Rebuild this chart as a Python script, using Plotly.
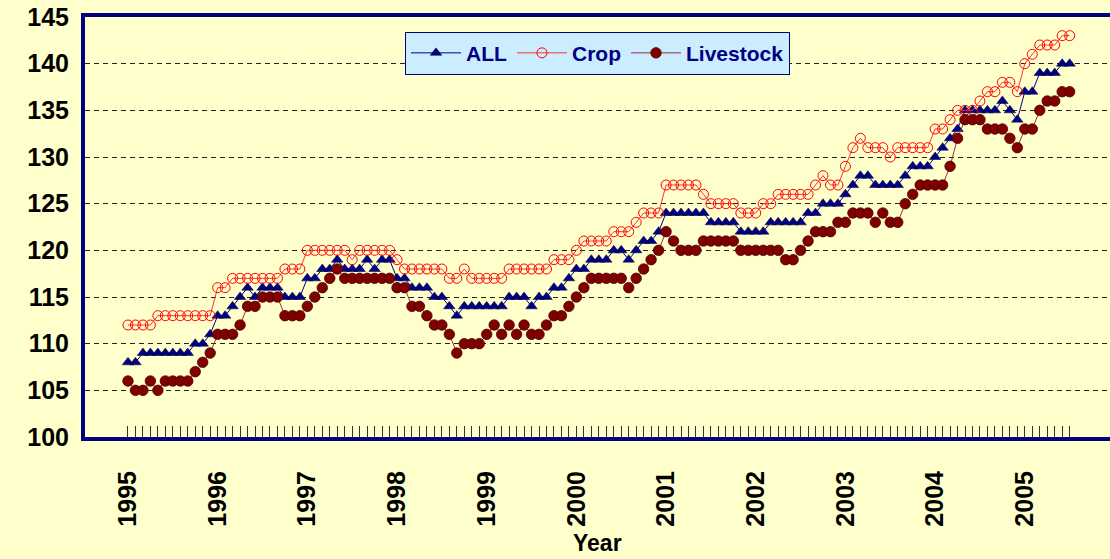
"""Monthly price indices 1995-2005: ALL, Crop, Livestock."""
import plotly.graph_objects as go

# ─── Data (Jan 1995 .. Jul 2005, monthly) ────────────────────────────────────
years = [1995, 1996, 1997, 1998, 1999, 2000, 2001, 2002, 2003, 2004, 2005]

all_index = [
    108, 108, 109, 109, 109, 109, 109, 109, 109, 110, 110, 111,   # 1995
    113, 113, 114, 115, 116, 115, 116, 116, 116, 115, 115, 115,   # 1996
    117, 117, 118, 118, 119, 118, 118, 118, 119, 118, 119, 119,   # 1997
    117, 117, 116, 116, 116, 115, 115, 114, 113, 114, 114, 114,   # 1998
    114, 114, 114, 115, 115, 115, 114, 115, 115, 116, 116, 117,   # 1999
    118, 118, 119, 119, 119, 120, 120, 119, 120, 121, 121, 122,   # 2000
    124, 124, 124, 124, 124, 124, 123, 123, 123, 123, 122, 122,   # 2001
    122, 122, 123, 123, 123, 123, 123, 124, 124, 125, 125, 125,   # 2002
    126, 127, 128, 128, 127, 127, 127, 127, 128, 129, 129, 129,   # 2003
    130, 131, 132, 133, 135, 135, 135, 135, 135, 136, 135, 134,   # 2004
    137, 137, 139, 139, 139, 140, 140,                            # 2005
]

crop_index = [
    112, 112, 112, 112, 113, 113, 113, 113, 113, 113, 113, 113,
    116, 116, 117, 117, 117, 117, 117, 117, 117, 118, 118, 118,
    120, 120, 120, 120, 120, 120, 119, 120, 120, 120, 120, 120,
    119, 118, 118, 118, 118, 118, 118, 117, 117, 118, 117, 117,
    117, 117, 117, 118, 118, 118, 118, 118, 118, 119, 119, 119,
    120, 121, 121, 121, 121, 122, 122, 122, 123, 124, 124, 124,
    127, 127, 127, 127, 127, 126, 125, 125, 125, 125, 124, 124,
    124, 125, 125, 126, 126, 126, 126, 126, 127, 128, 127, 127,
    129, 131, 132, 131, 131, 131, 130, 131, 131, 131, 131, 131,
    133, 133, 134, 135, 135, 135, 136, 137, 137, 138, 138, 137,
    140, 141, 142, 142, 142, 143, 143,
]

livestock_index = [
    106, 105, 105, 106, 105, 106, 106, 106, 106, 107, 108, 109,
    111, 111, 111, 112, 114, 114, 115, 115, 115, 113, 113, 113,
    114, 115, 116, 117, 118, 117, 117, 117, 117, 117, 117, 117,
    116, 116, 114, 114, 113, 112, 112, 111, 109, 110, 110, 110,
    111, 112, 111, 112, 111, 112, 111, 111, 112, 113, 113, 114,
    115, 116, 117, 117, 117, 117, 117, 116, 117, 118, 119, 120,
    122, 121, 120, 120, 120, 121, 121, 121, 121, 121, 120, 120,
    120, 120, 120, 120, 119, 119, 120, 121, 122, 122, 122, 123,
    123, 124, 124, 124, 123, 124, 123, 123, 125, 126, 127, 127,
    127, 127, 129, 132, 134, 134, 134, 133, 133, 133, 132, 131,
    133, 133, 135, 136, 136, 137, 137,
]

NAVY = '#000080'
BG = '#FFFFCC'
FONT = 'Arial, "Liberation Sans", sans-serif'

months = list(range(len(all_index)))
tick_text = [str(years[m // 12]) if m % 12 == 0 else '' for m in months]

fig = go.Figure()

fig.add_trace(go.Scatter(
    x=months, y=all_index, name='ALL', mode='lines+markers',
    line=dict(color=NAVY, width=1),
    marker=dict(symbol='triangle-up', size=10, color=NAVY,
                line=dict(color='#000040', width=0.5)),
))
fig.add_trace(go.Scatter(
    x=months, y=crop_index, name='Crop', mode='lines+markers',
    line=dict(color='#FF3333', width=1),
    marker=dict(symbol='circle-open', size=10, color='#FF0000',
                line=dict(color='#FF0000', width=1)),
))
fig.add_trace(go.Scatter(
    x=months, y=livestock_index, name='Livestock', mode='lines+markers',
    line=dict(color='#993333', width=1),
    marker=dict(symbol='circle', size=10.5, color='#800000',
                line=dict(color='#4d0000', width=0.8)),
))

fig.update_layout(
    width=1110, height=559,
    margin=dict(l=85, r=0, t=17, b=122),
    paper_bgcolor=BG, plot_bgcolor=BG,
    font=dict(family=FONT, color='black'),
    showlegend=True,
    legend=dict(
        orientation='h', x=0.5, xanchor='center', y=0.965, yanchor='top',
        bgcolor='#CCECFF', bordercolor=NAVY, borderwidth=1,
        itemwidth=50,
        font=dict(size=21, color=NAVY, weight='bold'),
    ),
    xaxis=dict(
        range=[-5.75, 131.4], automargin=False,
        tickmode='array', tickvals=months, ticktext=tick_text,
        tickangle=-90, ticks='inside', ticklen=11, tickwidth=1, tickcolor='#333',
        ticklabelstandoff=20,
        tickfont=dict(size=25, weight='bold', color='black'),
        showgrid=False, zeroline=False,
        showline=True, linecolor=NAVY, linewidth=4, mirror=True,
    ),
    yaxis=dict(
        range=[100, 145], dtick=5, tick0=100, automargin=False,
        ticks='', ticklabelstandoff=7,
        tickfont=dict(size=25, weight='bold', color='black'),
        showgrid=True, gridcolor='#222', gridwidth=1, griddash='5px,4px',
        zeroline=False,
        showline=True, linecolor=NAVY, linewidth=4,
    ),
    annotations=[dict(
        text='Year', xref='paper', yref='paper', x=0.5, y=-0.252,
        xanchor='center', yanchor='middle', showarrow=False,
        font=dict(size=23, weight='bold', color='black'),
    )],
)

# drop the browser's default 8px body margin so the figure sits at (0, 0)
fig.write_html('out.html', config={'displayModeBar': False},
               post_script="document.body.style.margin='0';")
